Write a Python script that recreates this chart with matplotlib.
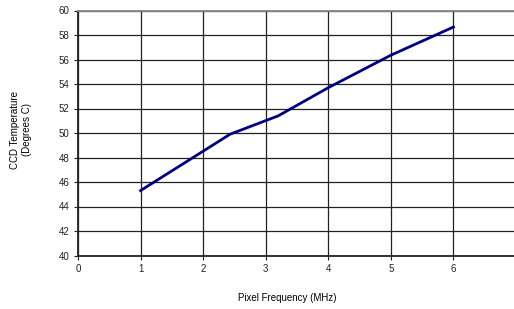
import matplotlib.pyplot as plt

plt.rcParams['font.family'] = ['Liberation Sans', 'DejaVu Sans']

# --- données ---
freq = [1.0, 2.43, 3.2, 4.0, 5.0, 6.0]
temp = [45.3, 49.9, 51.4, 53.7, 56.35, 58.65]
xticks = [0, 1, 2, 3, 4, 5, 6, 7]
xlabels = ['0', '1', '2', '3', '4', '5', '6', '']
yticks = [40, 42, 44, 46, 48, 50, 52, 54, 56, 58, 60]

fig = plt.figure(figsize=(5.14, 3.09), dpi=100)
ax = fig.add_axes([78 / 514, 1 - 255.5 / 309, 438 / 514, 245 / 309])

ax.plot(freq, temp, color='#000080', lw=2)

ax.set_xlim(0, 7)
ax.set_ylim(40, 60)
ax.set_xticks(xticks, xlabels)
ax.set_yticks(yticks)
ax.grid(True, color='#222222', lw=0.9)
ax.set_axisbelow(True)
ax.tick_params(labelsize=7, length=3, width=0.8, colors='#222222', pad=3)

for s in ['left', 'bottom']:
    ax.spines[s].set_linewidth(1.3)
    ax.spines[s].set_color('#222222')
ax.spines['top'].set_color('#888888')
ax.spines['top'].set_linewidth(1.3)
ax.spines['right'].set_visible(False)

fig.text(287 / 514, 1 - 298 / 309, "Pixel Frequency (MHz)", fontsize=7,
         ha='center', va='center')
fig.text(21 / 514, 1 - 130 / 309, "CCD Temperature\n(Degrees C)", fontsize=7,
         ha='center', va='center', rotation=90, multialignment='center')

fig.savefig("out.png", dpi=100)
